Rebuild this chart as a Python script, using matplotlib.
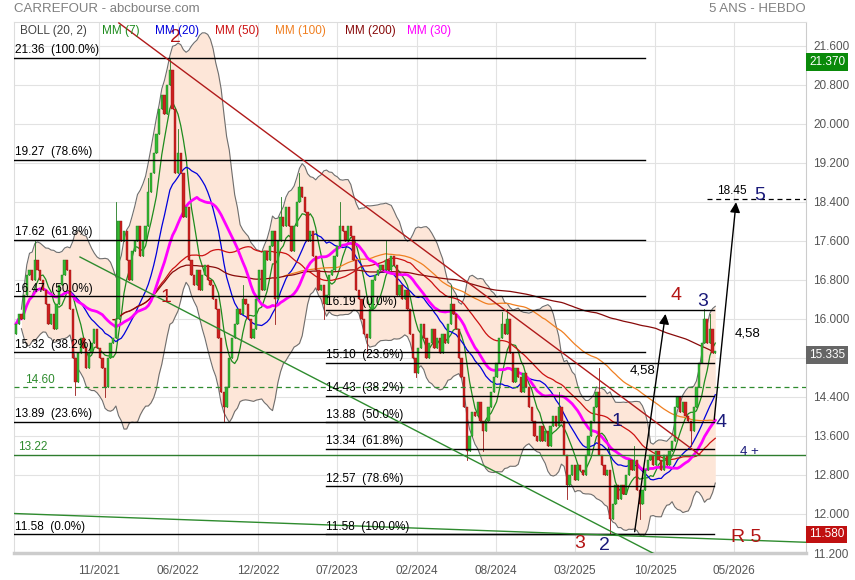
import numpy as np
import pandas as pd
import matplotlib
matplotlib.use("Agg")
import matplotlib.pyplot as plt

plt.rcParams['font.family'] = ['Liberation Sans', 'DejaVu Sans']

# weekly closes (one per week, 260 weeks)
closes = [
    15.9, 16.1, 16.0, 16.5, 16.9, 17.0, 16.8, 17.2, 17.0, 16.8,
    16.6, 16.3, 15.9, 16.1, 15.8, 16.3, 16.7, 16.9, 17.2, 17.0,
    16.2, 15.2, 14.7, 15.3, 15.6, 15.4, 15.0, 15.3, 15.5, 15.8,
    15.4, 15.2, 15.0, 14.6, 15.2, 15.5, 15.6, 16.0, 18.0, 17.6,
    17.8, 17.2, 16.8, 17.4, 17.6, 17.9, 17.3, 17.6, 17.9, 18.6,
    19.0, 19.4, 19.8, 20.3, 20.6, 20.2, 20.8, 21.1, 20.3, 19.0,
    19.4, 19.0, 18.1, 18.3, 17.2, 16.9, 16.7, 17.0, 16.6, 16.9,
    17.1, 16.8, 16.7, 16.4, 16.2, 15.6, 14.5, 14.2, 14.6, 15.2,
    15.6, 15.9, 16.2, 16.1, 16.4, 16.3, 16.0, 15.6, 15.8, 16.4,
    17.0, 16.6, 17.4, 17.2, 17.5, 17.8, 16.4, 17.6, 18.1, 17.9,
    18.3, 17.9, 17.4, 17.9, 18.4, 18.7, 18.5, 18.2, 17.6, 17.8,
    17.3, 17.0, 16.6, 16.7, 16.3, 16.5, 16.9, 17.0, 17.3, 17.5,
    17.9, 17.8, 17.6, 17.9, 17.7, 17.2, 16.6, 16.4, 16.0, 15.7,
    15.6, 16.2, 16.8, 16.9, 17.0, 17.1, 17.0, 17.2, 17.0, 17.3,
    17.1, 16.5, 16.7, 16.4, 16.6, 16.2, 15.7, 15.2, 14.9, 15.4,
    15.9, 15.6, 15.2, 15.5, 15.8, 15.4, 15.6, 15.3, 15.7, 15.5,
    15.9, 16.3, 16.1, 15.8, 15.2, 14.8, 14.2, 13.3, 13.6, 14.1,
    14.0, 14.3, 13.9, 13.7, 13.9, 14.2, 14.5, 14.8, 15.1, 15.6,
    15.9, 15.7, 16.0, 15.3, 14.7, 15.0, 14.8, 14.5, 14.9, 14.6,
    14.2, 13.9, 13.6, 13.5, 13.8, 13.5, 13.7, 13.4, 13.8, 14.0,
    13.8, 14.2, 13.9, 13.2, 12.6, 12.8, 13.0, 12.7, 13.0, 12.9,
    12.8, 13.2, 13.6, 13.9, 14.2, 14.5, 13.2, 13.0, 12.8, 12.9,
    11.9, 12.2, 12.6, 12.3, 12.6, 12.4, 12.8, 13.1, 12.9, 13.1,
    12.5, 12.2, 12.5, 12.9, 13.1, 13.2, 13.0, 13.3, 13.1, 12.9,
    13.2, 13.0, 13.3, 13.5, 14.2, 14.4, 14.1, 14.3, 14.0, 13.9,
    13.7, 14.2, 14.6, 15.1, 15.5, 16.0, 15.5, 15.8, 15.3, 15.335,
]
first_open = 15.7

# visible wick extremes (week -> price)
wick_highs = {7: 17.6, 37: 18.4, 49: 18.9, 57: 21.36, 60: 19.9, 84: 16.7, 98: 18.5,
              105: 19.0, 120: 18.4, 137: 17.6, 161: 16.7, 180: 16.15, 182: 16.2,
              201: 14.5, 216: 15.0, 229: 13.4, 255: 16.2, 257: 16.1}
wick_lows = {22: 14.45, 33: 14.4, 77: 13.9, 96: 15.9, 114: 16.0, 130: 15.3, 148: 14.8,
             167: 13.1, 173: 13.3, 204: 12.3, 220: 11.58, 231: 11.9, 250: 13.4}

tick_weeks = [30.7, 60.0, 89.6, 118.9, 148.5, 177.8, 207.0, 236.7, 266.0]
tick_labels = ["11/2021", "06/2022", "12/2022", "07/2023", "02/2024",
               "08/2024", "03/2025", "10/2025", "05/2026"]
y_ticks = [21.6, 20.8, 20.0, 19.2, 18.4, 17.6, 16.8, 16.0, 15.2, 14.4, 13.6, 12.8, 12.0, 11.2]

fib_a_levels = [21.36, 19.27, 17.62, 16.47, 15.32, 13.89, 11.58]
fib_a_pcts = ["100.0%", "78.6%", "61.8%", "50.0%", "38.2%", "23.6%", "0.0%"]
fib_b_levels = [16.19, 15.10, 14.43, 13.88, 13.34, 12.57, 11.58]
fib_b_pcts = ["0.0%", "23.6%", "38.2%", "50.0%", "61.8%", "78.6%", "100.0%"]

last_values = [21.370, 11.580, 15.335]

ma_periods = [7, 20, 50, 100, 200, 30]
ma_names = ["MM (7)", "MM (20)", "MM (50)", "MM (100)", "MM (200)", "MM (30)"]
ma_colors = ["#1e8c1e", "#0000dd", "#cc1111", "#f07f20", "#880a0a", "#ff00ff"]
ma_minp = [7, 20, 37, 100, 37, 1]
ma_lw = [0.9, 0.9, 0.9, 0.9, 0.9, 2.0]

# *** figure ***
W, H = 855, 580
fig = plt.figure(figsize=(W / 100, H / 100), dpi=100)
ax = fig.add_axes([14 / W, 1 - 553 / H, (806 - 14) / W, (553 - 22) / H])
XL = (-0.74, 292.6)
ax.set_xlim(*XL)
ax.set_ylim(11.2, 22.09)

def fx(px):
    return px / W

def fy(py):
    return 1 - py / H

s = pd.Series(closes)
weeks = np.arange(len(closes))
opens = np.array([first_open] + closes[:-1])
cl = np.array(closes)

# bollinger
mid = s.rolling(20, min_periods=3).mean()
sd = s.rolling(20, min_periods=3).std()
up = mid + 2 * sd
lo = mid - 2 * sd
ax.fill_between(weeks, lo, up, color="#fde6d8", zorder=1, lw=0)
ax.plot(weeks, up, color="#6e6e6e", lw=0.8, zorder=2)
ax.plot(weeks, lo, color="#6e6e6e", lw=0.8, zorder=2)

# grid
for y in y_ticks:
    ax.axhline(y, color="#e2e2e2", lw=0.8, zorder=0)
for x in tick_weeks:
    ax.axvline(x, color="#e2e2e2", lw=0.8, zorder=0)

# moving averages
for p, c, mp, lw in zip(ma_periods, ma_colors, ma_minp, ma_lw):
    ax.plot(weeks, s.rolling(p, min_periods=mp).mean(), color=c, lw=lw, zorder=3)

# candles
for w in weeks:
    o, c = opens[w], cl[w]
    hi = wick_highs.get(w, max(o, c))
    low = wick_lows.get(w, min(o, c))
    col = "#33b833" if c >= o else "#cc2020"
    edge = "#1f7a1f" if c >= o else "#991515"
    ax.plot([w, w], [low, hi], color=edge, lw=0.6, zorder=4)
    ax.bar(w, max(abs(c - o), 0.03), bottom=min(o, c), width=0.85,
           color=col, edgecolor=edge, lw=0.3, zorder=5)

# fibonacci levels
xa0, xa1 = XL[0], 233.0
xb0, xb1 = 114.8, 258.5
for lv, pc in zip(fib_a_levels, fib_a_pcts):
    ax.plot([xa0, xa1], [lv, lv], color="black", lw=1.0, zorder=6)
    ax.text(-0.3, lv + 0.03, f"{lv:.2f}  ({pc})", fontsize=8.5, va="bottom", ha="left", zorder=7)
for lv, pc in zip(fib_b_levels, fib_b_pcts):
    ax.plot([xb0, xb1], [lv, lv], color="black", lw=1.0, zorder=6)
    ax.text(xb0 + 0.2, lv + 0.03, f"{lv:.2f}  ({pc})", fontsize=8.5, va="bottom", ha="left", zorder=7)

# support lines
ax.axhline(14.60, color="#2e8b2e", lw=0.9, ls=(0, (4, 3)), zorder=6)
ax.text(3.3, 14.63, "14.60", color="#2e8b2e", fontsize=8.5, va="bottom", zorder=7)
ax.axhline(13.22, color="#2e7d2e", lw=1.0, zorder=6)
ax.text(0.7, 13.25, "13.22", color="#2e8b2e", fontsize=8.5, va="bottom", zorder=7)
ax.plot([256, XL[1]], [18.45, 18.45], color="black", lw=0.9, ls=(0, (4, 3)), zorder=6)
ax.text(259.5, 18.5, "18.45", fontsize=8.5, va="bottom", zorder=7)

# trendlines
ax.plot([XL[0], XL[1]], [12.01, 11.42], color="#2e8b2e", lw=1.0, zorder=6)
ax.plot([23.7, 240.0], [17.27, 11.08], color="#2e8b2e", lw=1.0, zorder=6)
ax.plot([38.1, 253.3], [22.07, 13.21], color="#b01a1a", lw=1.0, zorder=6)

# projection arrows
arrow_kw = dict(arrowstyle="-|>,head_length=0.6,head_width=0.3", color="black", lw=1.0)
ax.annotate("", xy=(240.7, 16.16), xytext=(229.0, 11.58), arrowprops=arrow_kw, zorder=8)
ax.annotate("", xy=(266.8, 18.45), xytext=(258.5, 13.88), arrowprops=arrow_kw, zorder=8)
ax.text(232.0, 14.95, "4,58", fontsize=9.5, ha="center", va="center", zorder=8)
ax.text(270.8, 15.71, "4,58", fontsize=9.5, ha="center", va="center", zorder=8)

# wave labels
red, navy = "#b41414", "#1a1a7a"
waves = [("2", 58.9, 21.78, red), ("1", 55.6, 16.43, red), ("3", 208.9, 11.4, red),
         ("2", 218.0, 11.36, navy), ("4", 244.4, 16.49, red), ("3", 254.4, 16.35, navy),
         ("1", 222.6, 13.89, navy), ("4", 261.2, 13.87, navy), ("5", 275.6, 18.54, navy),
         ("R 5", 270.5, 11.51, red)]
for t, x, y, c in waves:
    ax.text(x, y, t, color=c, fontsize=14, ha="center", va="center", zorder=9)
ax.text(268.3, 13.27, "4 +", color=navy, fontsize=9.5, ha="left", va="center", zorder=9)

# axes styling
ax.yaxis.tick_right()
ax.set_yticks(y_ticks)
ax.set_yticklabels(["" if v == 15.2 else f"{v:.3f}" for v in y_ticks])
ax.set_xticks(tick_weeks)
ax.set_xticklabels(tick_labels)
ax.tick_params(axis="both", length=0, labelsize=8.5, labelcolor="#555555")
ax.tick_params(axis="x", pad=9)
ax.tick_params(axis="y", pad=5)
for sp in ["top", "left"]:
    ax.spines[sp].set_color("#dddddd")
ax.spines["right"].set_color("#cccccc")
ax.spines["bottom"].set_color("#cccccc")
ax.spines["bottom"].set_linewidth(2.5)

# price boxes on right scale (placed where the reference shows them)
tr = ax.get_yaxis_transform()
box_pos = [21.27, 11.58, 15.26]
for val, pos, bg in zip(last_values, box_pos, ["#0a8a0a", "#c01010", "#666666"]):
    ax.text(1.004, pos, f"{val:.3f}", transform=tr, color="white", fontsize=8.5,
            ha="left", va="center", zorder=10, clip_on=False,
            bbox=dict(boxstyle="square,pad=0.25", fc=bg, ec="none"))

# header and legend row
fig.text(fx(14), fy(9), "CARREFOUR - abcbourse.com", color="#808080", fontsize=9.5, va="center")
fig.text(fx(806), fy(9), "5 ANS - HEBDO", color="#808080", fontsize=9.5, va="center", ha="right")
fig.text(fx(20), fy(31), "BOLL (20, 2)", color="#444444", fontsize=8.5, va="center")
leg_x = [102, 155, 215, 275, 345, 407]
for px, name, c in zip(leg_x, ma_names, ma_colors):
    fig.text(fx(px), fy(31), name, color=c, fontsize=8.5, va="center")

fig.savefig("out.png", dpi=100)
